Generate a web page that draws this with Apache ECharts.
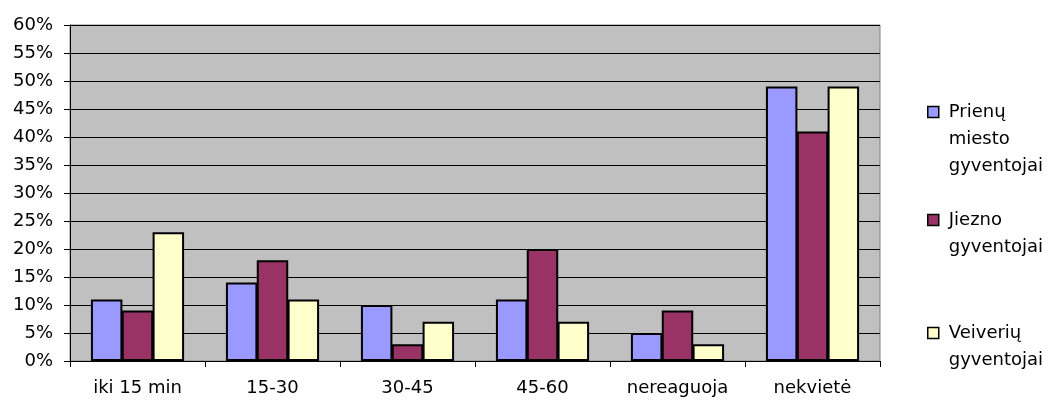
<!DOCTYPE html>
<html><head><meta charset="utf-8">
<script src="https://cdn.jsdelivr.net/npm/echarts@6/dist/echarts.min.js"></script>
<style>html,body{margin:0;padding:0;background:#fff}#c{width:1049px;height:401px}</style>
</head><body><div id="c"></div>
<script>
var categories = ['iki 15 min', '15-30', '30-45', '45-60', 'nereaguoja', 'nekvietė'];
var seriesNames = ['Prienų miesto gyventojai', 'Jiezno gyventojai', 'Veiverių gyventojai'];
var prienai = [11, 14, 10, 11, 5, 49];
var jieznas = [9, 18, 3, 20, 9, 41];
var veiveriai = [23, 11, 7, 7, 3, 49];
var yTicks = [0, 5, 10, 15, 20, 25, 30, 35, 40, 45, 50, 55, 60];

var FONT = 'DejaVu Sans';
var colors = ['#9999FF', '#993366', '#FFFFCC'];
var legendLabels = ['\n\nPrienų\nmiesto\ngyventojai', '\nJiezno\ngyventojai', '\nVeiverių\ngyventojai'];
var legendTops = [44.5, 179.5, 292.5];

function mkLegend(i) {
  return {
    orient: 'vertical', left: 927, top: legendTops[i], padding: 0,
    data: [seriesNames[i]], icon: 'rect', itemWidth: 11, itemHeight: 11,
    formatter: function () { return legendLabels[i]; },
    textStyle: { fontFamily: FONT, fontSize: 18, color: '#000', lineHeight: 27, padding: [0, 0, 0, 5] },
    itemStyle: { borderColor: '#000', borderWidth: 1.5 },
    selectedMode: false
  };
}

function mkSeries(i, data) {
  return {
    name: seriesNames[i], type: 'bar', data: data,
    barGap: '-2%', barCategoryGap: '31%',
    itemStyle: { color: colors[i], borderColor: '#000', borderWidth: 2 },
    animation: false
  };
}

var chart = echarts.init(document.getElementById('c'));
chart.setOption({
  animation: false,
  grid: { left: 70, right: 169, top: 25, bottom: 40, show: true, backgroundColor: '#C0C0C0', borderColor: '#808080', borderWidth: 1 },
  legend: [mkLegend(0), mkLegend(1), mkLegend(2)],
  xAxis: {
    type: 'category', data: categories, boundaryGap: true,
    axisLine: { lineStyle: { color: '#000', width: 1 } },
    axisTick: { show: true, alignWithLabel: false, length: 6, lineStyle: { color: '#000' } },
    axisLabel: { fontFamily: FONT, fontSize: 18, color: '#000', margin: 18, interval: 0 }
  },
  yAxis: {
    type: 'value', min: yTicks[0], max: yTicks[yTicks.length - 1], interval: 5,
    axisLine: { show: true, lineStyle: { color: '#000', width: 1 } },
    axisTick: { show: true, length: 6, lineStyle: { color: '#000' } },
    axisLabel: { fontFamily: FONT, fontSize: 18, color: '#000', margin: 17, formatter: '{value}%' },
    splitLine: { show: true, lineStyle: { color: '#000', width: 1 } }
  },
  series: [mkSeries(0, prienai), mkSeries(1, jieznas), mkSeries(2, veiveriai)]
});
</script></body></html>
